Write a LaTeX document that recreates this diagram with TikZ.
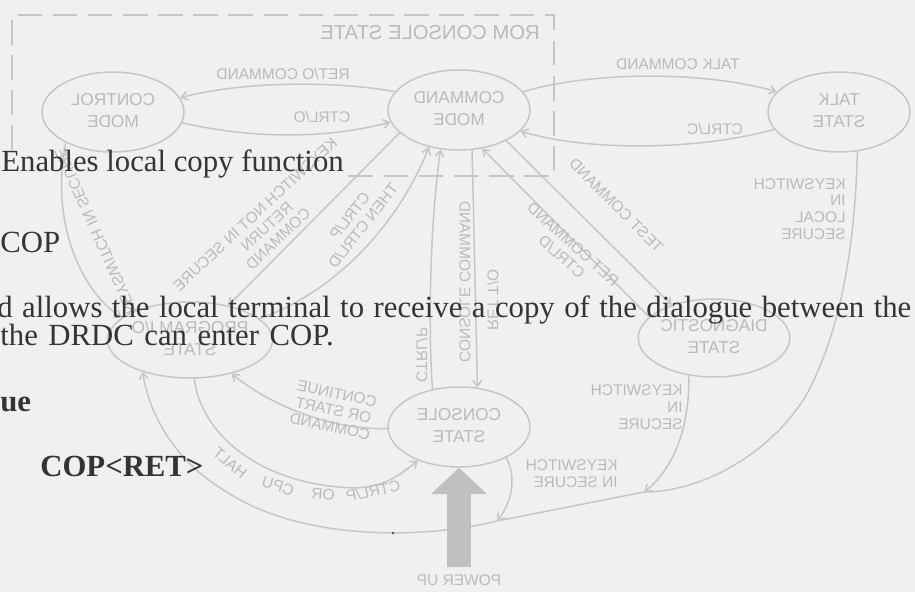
\documentclass[tikz,border=0pt]{standalone}
\usepackage{fontspec}
\usepackage{graphicx}
\setmainfont{Liberation Serif}
\newfontfamily\diagfont{Liberation Sans}
\usetikzlibrary{shapes.geometric,arrows.meta}
\definecolor{paper}{RGB}{240,240,239}
\definecolor{bleed}{RGB}{198,198,198}
\definecolor{bleedtext}{RGB}{186,186,186}
\definecolor{ink}{RGB}{52,52,52}
\definecolor{powerfill}{RGB}{192,192,192}
\newcommand{\mc}[1]{\reflectbox{\begin{tabular}{@{}c@{}}#1\end{tabular}}}
\newcommand{\ml}[1]{\reflectbox{\begin{tabular}{@{}l@{}}#1\end{tabular}}}
\begin{document}
\begin{tikzpicture}[x=0.02cm,y=-0.02cm,
  bt/.style={draw=bleed, line width=0.85pt},
  arr/.style={-{Straight Barb[length=3.5pt,width=5pt]}},
  boxline/.style={draw=bleed, line width=0.85pt, dash pattern=on 14pt off 6pt},
  st/.style={ellipse, draw=bleed, line width=0.85pt, minimum width=2.84cm, minimum height=1.6cm, inner sep=0pt, text=bleedtext, font=\diagfont\fontsize{9.8}{12.5}\selectfont},
  lab/.style={inner sep=0pt, text=bleedtext, font=\diagfont\fontsize{8.8}{9.6}\selectfont},
  fg/.style={inner sep=0pt, anchor=base west, text=ink, font=\fontsize{17.5}{20}\selectfont},
  fgb/.style={fg, font=\fontsize{17.5}{20}\selectfont\bfseries},
]
\useasboundingbox (0,0) rectangle (915,592);
\clip (0,0) rectangle (915,592);
\fill[paper] (0,0) rectangle (915,592);

% ---- show-through diagram (mirrored) ----
\coordinate (bx1) at (12,150);
\coordinate (bx2) at (12,15);
\coordinate (bx3) at (554,15);
\coordinate (bx4) at (554,176);
\coordinate (bx5) at (342,176);
\draw[boxline] (bx1) -- (bx2) -- (bx3) -- (bx4) -- (bx5);
\node[lab, font=\diagfont\fontsize{11.5}{13}\selectfont] (romlab) at (430,35) {\mc{ROM CONSOLE STATE}};

\node[st] (ctl) at (113,112) {\mc{CONTROL\\MODE}};
\node[st] (cmd) at (459,110) {\mc{COMMAND\\MODE}};
\node[st] (talk) at (839,112) {\mc{TALK\\STATE}};
\node[st, minimum width=2.8cm, minimum height=1.52cm] (pio) at (190,340) {\mc{PROGRAM I/O\\STATE}};
\node[st, minimum height=1.56cm] (diag) at (714,338) {\mc{DIAGNOSTIC\\STATE}};
\node[st] (con) at (459,427) {\mc{CONSOLE\\STATE}};

% top pairs
\draw[bt,arr] (cmd.164) .. controls (330,80) and (240,82) .. (ctl.12);
\node[lab] (e1) at (283,76) {\mc{RET/O COMMAND}};
\draw[bt,arr] (ctl.-9) .. controls (260,140) and (330,138) .. (cmd.190);
\node[lab] (e2) at (322,119) {\mc{CTRL/O}};
\draw[bt,arr] (cmd.16) .. controls (590,72) and (700,70) .. (talk.162);
\node[lab] (e3) at (678,66) {\mc{TALK COMMAND}};
\draw[bt,arr] (talk.195) .. controls (700,150) and (590,152) .. (cmd.-19);
\node[lab] (e4) at (715,131) {\mc{CTRL/C}};

% outer loop
\coordinate (j1) at (644,492);
\coordinate (j2) at (497,521);
\draw[bt,arr] (talk.-65) .. controls (855,250) and (840,330) .. (808,392)
   .. controls (775,450) and (705,492) .. (j1) -- (j2)
   .. controls (420,540) and (300,540) .. (227,492)
   .. controls (180,465) and (150,420) .. (pio.214);
\node[lab, anchor=east] (e5) at (846,211) {\ml{KEYSWITCH\\IN\\LOCAL\\SECURE}};
\draw[bt,arr] (diag.236) .. controls (690,430) and (672,470) .. (j1);
\node[lab, anchor=east] (e6) at (683,409) {\ml{KEYSWITCH\\IN\\SECURE}};
\draw[bt,arr] (con.-33) .. controls (518,480) and (510,505) .. (j2);
\node[lab, anchor=east] (e7) at (618,476) {\ml{KEYSWITCH\\IN SECURE}};

% diagonals to diagnostic
\draw[bt,arr] (cmd.-33) -- (diag.142);
\node[lab, rotate=-45] (e8) at (615,207) {\mc{TEST COMMAND}};
\draw[bt,arr] (diag.162) -- (cmd.-59);
\node[lab, rotate=-42] (e9) at (566,252) {\mc{RET COMMAND\\CTRL/D}};

% verticals command <-> console
\draw[bt,arr] (con.125) .. controls (428,330) and (430,220) .. (cmd.245);
\node[lab, rotate=-90] (e10) at (420,355) {\mc{CTRL/P}};
\draw[bt,arr] (cmd.-72) .. controls (474,230) and (476,320) .. (con.65);
\node[lab, rotate=-90] (e11) at (463,282) {\mc{CONSOLE COMMAND}};
\node[lab, rotate=-90] (e11b) at (491,300) {\mc{RET T/O}};

% left side
\draw[bt,arr] (ctl.213) .. controls (50,220) and (80,290) .. (pio.162);
\node[lab, rotate=-66] (e12) at (94,232) {\mc{KEYSWITCH IN SECURE}};
\draw[bt,arr] (cmd.201) -- (pio.42);
\node[lab, rotate=43] (e13) at (268,228) {\mc{KEYSWITCH NOT IN SECURE\\RETURN\\COMMAND}};
\draw[bt,arr] (pio.17) .. controls (340,290) and (400,220) .. (cmd.231);
\node[lab, rotate=52] (e14) at (358,222) {\mc{CTRL/P\\THEN CTRL/D}};

% bottom arcs
\draw[bt,arr] (con) .. controls (330,430) and (270,405) .. (pio);
\node[lab, rotate=-12] (e15) at (333,412) {\mc{CONTINUE\\OR START\\COMMAND}};
\draw[bt,arr] (pio) .. controls (200,430) and (255,485) .. (355,488)
   .. controls (385,487) and (400,475) .. (con);
\node[lab, rotate=-40] (h1) at (230,463) {\reflectbox{HALT}};
\node[lab, rotate=-18] (h2) at (278,486) {\reflectbox{CPU}};
\node[lab, rotate=-5] (h3) at (323,494) {\reflectbox{OR}};
\node[lab, rotate=12] (h4) at (373,491) {\reflectbox{CTRL/P}};

% power up
\coordinate (pu) at (459,567);
\draw[powerfill, line width=14pt, -{Triangle[length=15pt,width=31pt]}] (pu) -- (con.south);
\node[lab] (pul) at (459,582) {\mc{POWER UP}};

\fill[black!70] (393,533) circle (1.3);

% ---- front text ----
\node[fg] (t1) at (1,171) {Enables local copy function};
\node[fg] (t2) at (0,252) {COP};
\node[fg] (t3) at (-3,317) {\spaceskip=5.4pt plus 1pt d allows the local terminal to receive a copy of the dialogue between the};
\node[fg] (t4) at (0,345) {\spaceskip=6pt plus 1pt the DRDC can enter COP.};
\node[fgb] (t5) at (0,411) {ue};
\node[fgb] (t6) at (40,476) {COP<RET>};
\end{tikzpicture}
\end{document}
